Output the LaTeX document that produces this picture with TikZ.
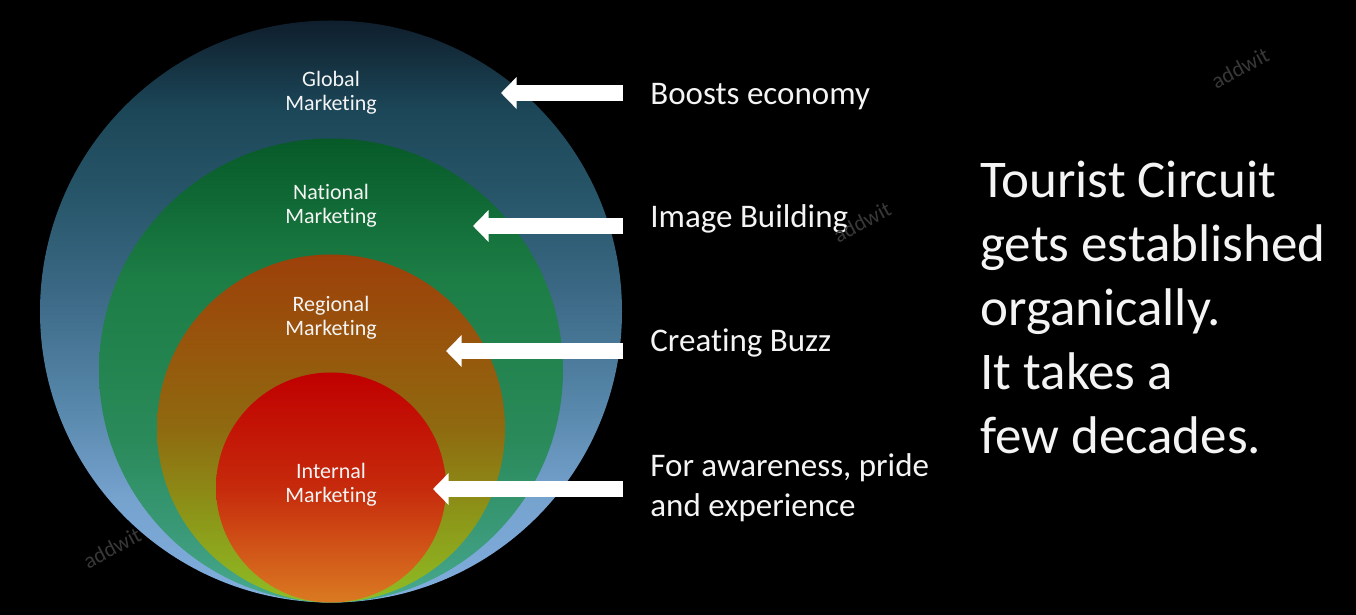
\documentclass[tikz,border=0pt]{standalone}
\usepackage{fontspec}
\setmainfont{Carlito}[Ligatures={NoCommon,NoContextual},RawFeature={-liga;-clig;-calt}]
\usetikzlibrary{arrows.meta}
\definecolor{gA}{HTML}{0F1E2C}
\definecolor{gB}{HTML}{1C4758}
\definecolor{gC}{HTML}{28566A}
\definecolor{gD}{HTML}{3D6B88}
\definecolor{gE}{HTML}{5585A8}
\definecolor{gF}{HTML}{76A2CE}
\definecolor{gG}{HTML}{80AEDE}
\definecolor{nA}{HTML}{075A28}
\definecolor{nB}{HTML}{1C7D45}
\definecolor{nC}{HTML}{2A8A5A}
\definecolor{nD}{HTML}{3E9E80}
\definecolor{nE}{HTML}{4AAA8E}
\definecolor{rA}{HTML}{9C400A}
\definecolor{rB}{HTML}{98540C}
\definecolor{rC}{HTML}{8F6A10}
\definecolor{rD}{HTML}{8C9418}
\definecolor{rE}{HTML}{8EBE24}
\definecolor{iA}{HTML}{C00000}
\definecolor{iB}{HTML}{C62A0C}
\definecolor{iC}{HTML}{DA7A22}
\definecolor{txt}{HTML}{F4F4F4}
\definecolor{wm}{HTML}{383838}
\pgfdeclareverticalshading{globalShade}{100bp}{color(0bp)=(gG); color(25bp)=(gG); color(34bp)=(gF); color(42.5bp)=(gE); color(51bp)=(gD); color(59.5bp)=(gC); color(67.3bp)=(gB); color(75bp)=(gA); color(100bp)=(gA)}
\pgfdeclareverticalshading{nationalShade}{100bp}{color(0bp)=(nE); color(25bp)=(nE); color(30bp)=(nD); color(42.5bp)=(nC); color(60bp)=(nB); color(75bp)=(nA); color(100bp)=(nA)}
\pgfdeclareverticalshading{regionalShade}{100bp}{color(0bp)=(rE); color(25bp)=(rE); color(38bp)=(rD); color(50bp)=(rC); color(63bp)=(rB); color(75bp)=(rA); color(100bp)=(rA)}
\pgfdeclareverticalshading{internalShade}{100bp}{color(0bp)=(iC); color(25bp)=(iC); color(50bp)=(iB); color(75bp)=(iA); color(100bp)=(iA)}
\begin{document}
\begin{tikzpicture}[x=0.5pt,y=0.5pt,
  ring/.style={circle, inner sep=0pt, draw=none},
  ringlabel/.style={text=txt, align=center, font=\fontsize{11pt}{12pt}\selectfont},
  sidelabel/.style={text=txt, align=left, inner sep=0pt, font=\fontsize{16.5pt}{20pt}\selectfont},
  bigtext/.style={text=txt, align=left, inner sep=0pt, font=\fontsize{26.5pt}{32pt}\selectfont},
  blockarrow/.style={draw=white, line width=8.3pt, -{Triangle[width=15.5pt,length=7.8pt]}},
  watermark/.style={text=wm, rotate=28, font=\fontsize{11pt}{12pt}\selectfont}
]
\fill[black] (0,0) rectangle (1356,615);
\useasboundingbox (0,0) rectangle (1356,615);

% concentric (internally tangent) circles
\node[ring, minimum size=291pt, shading=globalShade] (global) at (331,303.5) {};
\node[ring, minimum size=232pt, shading=nationalShade] (national) at (331,244.5) {};
\node[ring, minimum size=174pt, shading=regionalShade] (regional) at (331,186.5) {};
\node[ring, minimum size=115pt, shading=internalShade] (internal) at (331,127.5) {};

% circle labels
\node[ringlabel] (lglobal) at (331,522.5) {Global\\Marketing};
\node[ringlabel] (lnational) at (331,409.5) {National\\Marketing};
\node[ringlabel] (lregional) at (331,297.5) {Regional\\Marketing};
\node[ringlabel] (linternal) at (331,130.5) {Internal\\Marketing};

% side labels
\node[sidelabel, anchor=base west] (boost) at (650,510) {Boosts economy};
\node[sidelabel, anchor=base west] (image) at (650,387) {Image Building};
\node[sidelabel, anchor=base west] (buzz) at (650,263) {Creating Buzz};
\node[sidelabel, anchor=north west] (aware) at (650,162) {For awareness, pride\\and experience};

% arrows
\coordinate (s1) at (623,522); \coordinate (e1) at (501,522);
\coordinate (s2) at (623,389); \coordinate (e2) at (473,389);
\coordinate (s3) at (623,264); \coordinate (e3) at (446,264);
\coordinate (s4) at (623,126); \coordinate (e4) at (433,126);
\draw[blockarrow] (s1) -- (e1);
\draw[blockarrow] (s2) -- (e2);
\draw[blockarrow] (s3) -- (e3);
\draw[blockarrow] (s4) -- (e4);

% big text
\node[bigtext, anchor=north west] (circuit) at (980,454) {Tourist Circuit\\gets established\\organically.\\It takes a\\few decades.};

% watermarks
\node[watermark] (wm1) at (1240,547) {addwit};
\node[watermark] (wm2) at (862,393) {addwit};
\node[watermark] (wm3) at (112,67) {addwit};
\end{tikzpicture}
\end{document}
